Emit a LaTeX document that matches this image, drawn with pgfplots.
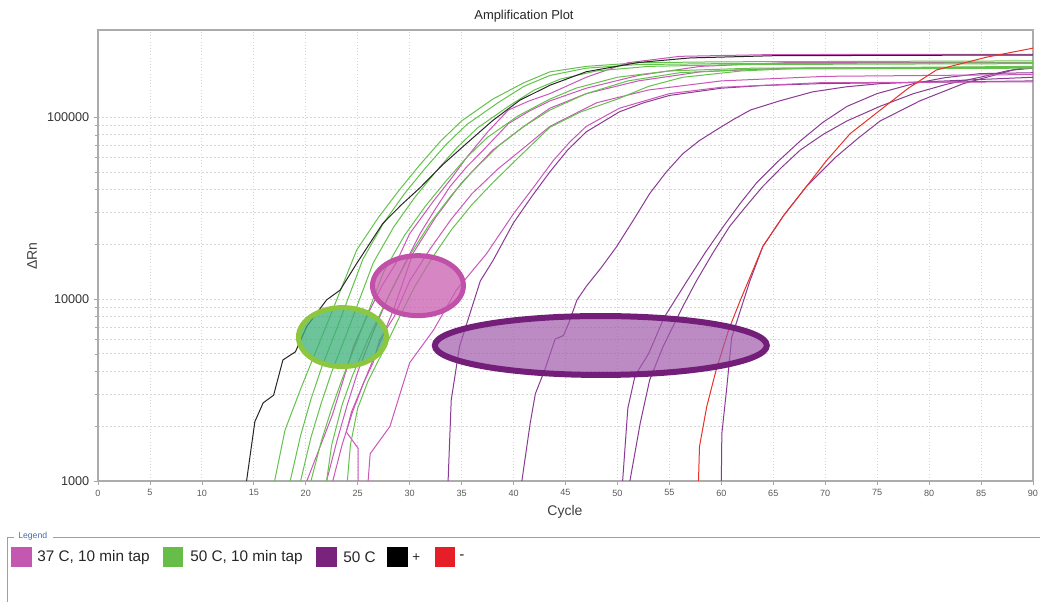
\documentclass[border=0pt]{standalone}
\usepackage{fontspec}
\setmainfont{Liberation Sans}
\usepackage{pgfplots}
\pgfplotsset{compat=1.18}
\definecolor{cpink}{RGB}{202,86,184}
\definecolor{cgreen}{RGB}{100,194,76}
\definecolor{cpurple}{RGB}{138,58,148}
\definecolor{cred}{RGB}{230,50,40}
\definecolor{lpink}{RGB}{196,88,176}
\definecolor{lgreen}{RGB}{102,190,72}
\definecolor{lpurple}{RGB}{122,35,125}
\definecolor{lred}{RGB}{230,30,40}
\definecolor{legblue}{RGB}{70,110,180}
\begin{document}
\begin{tikzpicture}
\useasboundingbox (-73.5pt,-90.75pt) rectangle (706.5pt,360.75pt);
\begin{axis}[
 at={(0pt,0pt)}, anchor=south west,
 width=701.25pt, height=338.25pt, scale only axis,
 xmin=0, xmax=90, ymin=1000, ymax=302000, ymode=log,
 xtick={0,5,...,90},
 ytick={1000,10000,100000}, yticklabels={1000,10000,100000},
 minor ytick={2000,3000,4000,5000,6000,7000,8000,9000,20000,30000,40000,50000,60000,70000,80000,90000},
 tick pos=left, tick align=outside,
 major tick length=3pt, minor tick length=2pt,
 tick style={gray!70, line width=0.5pt},
 axis line style={gray!65, line width=0.8pt},
 xmajorgrids, ymajorgrids, yminorgrids,
 x grid style={gray!35, dash pattern=on 0.8pt off 1.6pt, line width=0.6pt},
 y grid style={gray!32, dash pattern=on 1.5pt off 1.5pt, line width=0.6pt},
 /pgf/number format/assume math mode=true,
 xticklabel style={font=\fontsize{6.8}{8}\selectfont, text=black!65},
 yticklabel style={font=\fontsize{9.5}{11}\selectfont, text=black!80},
 every axis plot/.append style={line width=0.75pt, line join=round},
]
% 50 C (purple)
\addplot[cpurple] coordinates {(33.7,1000)(34,2786)(34.8,5495)(36.8,12590)(38,16220)(40,26300)(41.8,37000)(43.5,50120)(45.2,66000)(47,83180)(50.2,107200)(52.5,120000)(55,131800)(60,144500)(64,149500)(69.5,153100)(90,158500)};
\addplot[cpurple] coordinates {(40.8,1000)(41.6,2075)(42.1,3020)(43,4074)(44,6026)(44.8,6310)(45.3,7345)(46.1,9886)(47,11750)(48.4,14800)(49.9,19360)(51.5,27000)(53.1,38020)(54.7,50000)(56.3,63100)(57.9,74500)(59.5,85110)(61.2,97500)(62.8,109600)(65.6,123000)(68.8,138000)(72,147000)(75.3,153100)(81.7,158500)(90,166000)};
\addplot[cpurple] coordinates {(50.5,1000)(51,2512)(51.7,3802)(53,5012)(54.5,7943)(56.7,12590)(58.5,18200)(60.2,25120)(61.8,33500)(63.4,43650)(65.5,57500)(67.6,74130)(69.8,94000)(72.1,114800)(75,135000)(78.5,153100)(81.5,165000)(84.9,173800)(90,175800)};
\addplot[cpurple] coordinates {(51.2,1000)(52.2,2089)(53.1,3589)(54.4,5495)(56.3,9120)(57.6,12590)(59.2,18000)(60.8,25120)(62.4,32500)(64,41690)(65.8,53000)(67.6,66070)(69.8,80500)(72.1,95500)(75.3,115000)(78.5,134900)(81.7,152000)(84.9,166000)(87.5,180000)(90,190500)};
\addplot[cpurple] coordinates {(60,1000)(60.05,1820)(60.5,3162)(61,6166)(62.75,12590)(64,19500)(66,28840)(68.2,41690)(71,60260)(73.2,77000)(75.3,95500)(79.1,123000)(83.3,153100)(88.1,182000)(90,186200)};
% 37 C, 10 min tap (pink)
\addplot[cpink] coordinates {(20.1,1000)(22,1905)(22.6,2344)(23.9,4074)(24.6,5495)(26,8318)(27.3,11750)(28.7,15850)(30,22910)(32.3,34670)(34,46000)(35.5,60260)(37.5,83000)(39.5,109600)(41.5,123000)(43.5,134900)(47,166000)(51,199500)(56,216300)(65,221300)(90,221800)};
\addplot[cpink] coordinates {(22,1000)(23,1660)(24,2630)(25,3981)(26.5,6607)(28,10470)(29.4,15140)(31,22910)(32.5,31500)(33.9,41690)(35.5,53500)(37.1,66070)(39.5,92260)(41.5,108000)(43.5,123000)(47,144500)(52,169800)(58,190500)(66,199500)(90,199500)};
\addplot[cpink] coordinates {(22.6,1000)(23.5,1585)(24.5,2399)(25.5,3388)(27,5495)(28.5,8913)(30.3,17780)(32.5,28180)(35,43650)(38,66070)(41,89130)(43.5,112200)(47,134900)(52,158500)(58,177800)(66,186200)(90,188400)};
\addplot[cpink] coordinates {(25.05,1000)(25.05,1510)(23.9,1862)(24.4,2400)(25.6,3500)(26.5,4500)(27.1,5950)(28.5,8000)(30,12590)(32,19000)(34,27500)(36,38000)(38.5,52000)(41,68000)(43.5,89100)(48,120200)(53,141300)(60,158500)(70,167900)(90,171800)};
\addplot[cpink] coordinates {(26,1000)(26.2,1413)(28.1,1995)(30,4467)(32.3,6761)(34.5,11220)(37.4,17780)(40,29510)(41.9,41000)(43.8,57540)(45.4,73000)(47,89130)(50.2,112200)(55,134900)(60,146200)(69.5,154900)(90,156700)};
% 50 C, 10 min tap (green)
\addplot[cgreen] coordinates {(17,1000)(18,1905)(19.6,3311)(20.6,4571)(22.3,7943)(24.9,18620)(27,28180)(29,39810)(31,54950)(33,74130)(35,95500)(38,125900)(41,154900)(43.5,177800)(47,190500)(52,199500)(60,201800)(90,204200)};
\addplot[cgreen] coordinates {(18.5,1000)(19.5,1778)(20.5,2818)(21.5,4169)(23,6918)(25.5,16600)(27.5,26300)(29.5,38020)(31.5,52480)(33.5,70790)(35.5,91200)(38.5,120200)(41,147900)(43.5,169800)(47,186200)(52,195000)(60,197200)(90,199500)};
\addplot[cgreen] coordinates {(19.5,1000)(20.5,1738)(21.5,2692)(22.5,3981)(24,6607)(26.5,15850)(28.5,25120)(30.5,36310)(32.5,50120)(34.5,67610)(36.5,87100)(39.5,114800)(42,141300)(44.5,162200)(48,179900)(53,190500)(62,195000)(90,197200)};
\addplot[cgreen] coordinates {(20.5,1000)(21.5,1660)(22.5,2512)(23.5,3631)(25,6026)(27.5,14130)(29.5,22390)(31.5,32360)(33.5,44670)(35.5,60260)(37.5,77620)(40.5,102300)(43.5,125900)(46,144500)(50,166000)(55,179900)(63,186200)(90,188400)};
\addplot[cgreen] coordinates {(22,1000)(22.5,1585)(23.5,2630)(24.5,3802)(26,6026)(28,10470)(30,17380)(32,26300)(34,37150)(36,50120)(38.5,69180)(41,89130)(43.5,109600)(47,134900)(51,158500)(56,175800)(63,184100)(90,186200)};
\addplot[cgreen] coordinates {(24,1000)(24.3,1585)(25,2512)(26,3548)(27.5,5248)(29,7943)(30.5,11750)(32.2,16980)(34,23990)(36,33110)(38,43650)(40.5,60260)(43.5,88100)(46.5,107200)(50,125900)(53,147900)(56.3,166000)(62,179900)(68,186200)(90,190500)};
% + (black)
\addplot[black!85] coordinates {(14.3,1000)(15.1,2120)(15.9,2690)(16.9,2960)(17.8,4630)(19,5130)(20.1,7080)(22,9900)(23.3,11200)(24.9,15700)(27.4,26000)(29.2,33000)(31,41000)(33.2,55000)(35.5,72000)(38,96000)(40.6,124000)(43.5,150000)(47,178000)(52,200000)(57,212000)(65,218000)(90,220000)};
% - (red)
\addplot[cred] coordinates {(57.8,1000)(57.9,1549)(58.6,2570)(59.5,4074)(60.7,6761)(61.8,9772)(62.9,13800)(64,19500)(66,28840)(68.2,41690)(70.1,57540)(72.4,81280)(75.3,109600)(78,144500)(80.7,182000)(85.5,213800)(90,239900)};
% highlight ellipses
\draw[line width=3.75pt, draw={rgb,255:red,141;green,198;blue,63}, fill={rgb,255:red,60;green,175;blue,120}, fill opacity=0.75] (axis cs:23.53,6185) ellipse [x radius=33pt, y radius=22.1pt];
\draw[line width=3.75pt, draw={rgb,255:red,192;green,80;blue,168}, fill={rgb,255:red,200;green,95;blue,175}, fill opacity=0.75] (axis cs:30.8,11860) ellipse [x radius=34.1pt, y radius=22.5pt];
\draw[line width=4.5pt, draw={rgb,255:red,115;green,30;blue,120}, fill={rgb,255:red,160;green,90;blue,170}, fill opacity=0.7] (axis cs:48.4,5560) ellipse [x radius=124.5pt, y radius=22.1pt];
\end{axis}
\begin{scope}[x=0.75pt, y=-0.75pt, xshift=-73.5pt, yshift=360.75pt]
\node[font=\fontsize{9.7}{11}\selectfont, text=black!85] at (524,16) {Amplification Plot};
\node[rotate=90, font=\fontsize{10.5}{12}\selectfont, text=black!75] at (32,256) {ΔRn};
\node[font=\fontsize{10.5}{12}\selectfont, text=black!75] at (565,512) {Cycle};
% legend
\draw[gray!75, line width=0.6pt] (7.5,602) -- (7.5,537) -- (14,537);
\draw[gray!75, line width=0.6pt] (53,537) -- (1040,537);
\node[font=\fontsize{6.5}{7}\selectfont, text=legblue, anchor=west, inner sep=0pt] at (18,536) {Legend};
\fill[lpink] (11,547) rectangle (32,567);
\node[anchor=west, inner sep=0pt, font=\fontsize{11.5}{13}\selectfont, text=black!85] at (37,557.5) {37 C, 10 min tap};
\fill[lgreen] (163,547) rectangle (183,567);
\node[anchor=west, inner sep=0pt, font=\fontsize{11.5}{13}\selectfont, text=black!85] at (190,557.5) {50 C, 10 min tap};
\fill[lpurple] (316,547) rectangle (337,567);
\node[anchor=west, inner sep=0pt, font=\fontsize{11.5}{13}\selectfont, text=black!85] at (343,557.5) {50 C};
\fill[black] (387,547) rectangle (408,567);
\node[anchor=west, inner sep=0pt, font=\fontsize{10}{11}\selectfont, text=black!85] at (412,557.5) {+};
\fill[lred] (435,547) rectangle (455,567);
\node[anchor=west, inner sep=0pt, font=\fontsize{11.5}{13}\selectfont, text=black!85] at (459,557.5) {-};
\end{scope}
\end{tikzpicture}
\end{document}
